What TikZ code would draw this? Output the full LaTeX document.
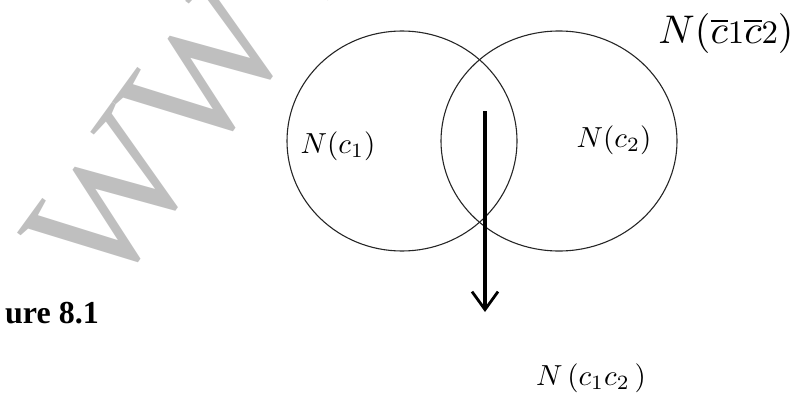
\documentclass[tikz,border=0pt]{standalone}
\usepackage{fontspec}
\setmainfont{Liberation Serif}
\usetikzlibrary{arrows.meta}
\newcommand{\midig}[1]{\scalebox{0.82}{$#1$}}
\newcommand{\bigmath}[2]{\scalebox{#1}{$#2$}}
\tikzset{
  venn/.style={draw=black!85, line width=1.1pt},
  lbl/.style={inner sep=0pt, text=black, font=\fontsize{10}{10}\selectfont},
  wmark/.style={inner sep=0pt, text=black!25, font=\fontsize{172}{172}\selectfont},
  bigarrow/.style={line width=3.2pt, -{Straight Barb[length=18pt,width=26pt,line width=2.8pt]}}
}
\begin{document}
\begin{tikzpicture}[x=1pt,y=-1pt]
\useasboundingbox (0,0) rectangle (799,404);
\begin{scope}
\clip (0,0) rectangle (799,404);
\node[wmark, rotate=54, anchor=base west] (wm) at (108,300) {WWW};
\end{scope}
\draw[venn] (402,141) ellipse [x radius=115, y radius=110];
\draw[venn] (559,141) ellipse [x radius=118, y radius=110];
\coordinate (astart) at (485,111);
\coordinate (aend) at (485,312);
\draw[bigarrow] (astart) -- (aend);
\node[lbl] (n1) at (338,146) {\bigmath{2.9}{N(c_1)}};
\node[lbl] (n2) at (614,140) {\bigmath{2.9}{N(c_2)}};
\node[lbl] (nbar) at (726,34) {\bigmath{4.0}{N(\overline{c}\midig{1}\overline{c}\midig{2})}};
\node[lbl] (n12) at (591,378) {\bigmath{2.9}{N\,(c_1c_2\,)}};
\node[lbl, anchor=base east, font=\bfseries\fontsize{32}{32}\selectfont] (fig) at (99,323) {ure 8.1};
\end{tikzpicture}
\end{document}
